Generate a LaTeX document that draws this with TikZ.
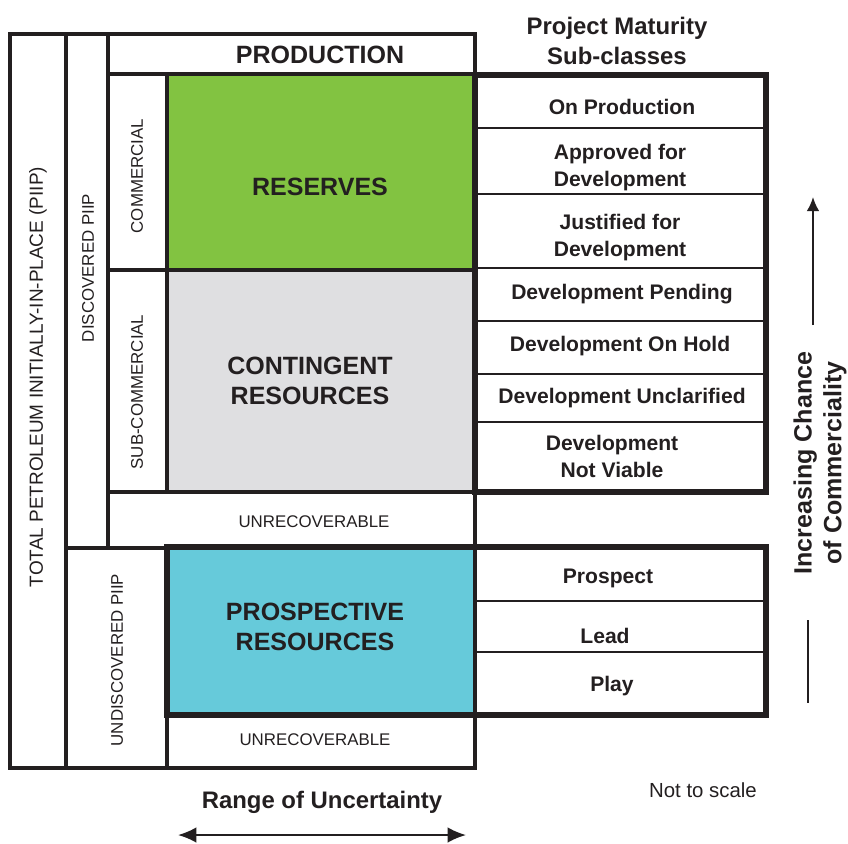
\documentclass[tikz,border=0pt]{standalone}
\usepackage{fontspec}
\setmainfont{Liberation Sans}
\usetikzlibrary{arrows.meta}
\definecolor{resgreen}{RGB}{130,195,65}
\definecolor{congrey}{RGB}{223,223,225}
\definecolor{procyan}{RGB}{102,202,218}
\definecolor{inkdark}{RGB}{35,31,32}
\begin{document}
\begin{tikzpicture}[x=0.025cm, y=-0.025cm,
  frame/.style={draw=inkdark, line width=2.5pt},
  rowline/.style={draw=inkdark, line width=1.4pt},
  heavyframe/.style={draw=inkdark, line width=3.6pt},
  bigtext/.style={font=\fontsize{17.8}{21.3}\selectfont\bfseries, text=inkdark, align=center},
  subtext/.style={font=\fontsize{15}{19.2}\selectfont\bfseries, text=inkdark, align=center},
  headtext/.style={font=\fontsize{17}{21.3}\selectfont\bfseries, text=inkdark, align=center},
  smallcap/.style={font=\fontsize{12}{14}\selectfont, text=inkdark},
  note/.style={font=\fontsize{14.5}{17}\selectfont, text=inkdark}]
        \useasboundingbox (0,0) rectangle (848,843) ;
        % coloured classes
        \fill[resgreen] (167,74) rectangle (475,270) ;
        \fill[congrey] (167,270) rectangle (475,492) ;
        \fill[procyan] (167,547) rectangle (475,715) ;
        % left frame
        \draw[frame] (10,34) rectangle (475,768) ;
        \draw[frame] (66,34) -- (66,768) ;
        \draw[frame] (108,34) -- (108,548) ;
        \draw[frame] (66,548) -- (167,548) ;
        \draw[frame] (108,74) -- (475,74) ;
        \draw[frame] (167,74) -- (167,492) ;
        \draw[frame] (108,270) -- (475,270) ;
        \draw[frame] (108,492) -- (475,492) ;
        \draw[frame] (167,715) -- (167,768) ;
        % sub-classes
        \foreach \y in {128,194,268,321,374,422}
            \draw[rowline] (475,\y) -- (766,\y) ;
        \draw[heavyframe] (475,75) rectangle (766,492) ;
        \foreach \y in {601,652}
            \draw[rowline] (475,\y) -- (766,\y) ;
        \draw[heavyframe] (167,547) rectangle (766,715) ;
        \draw[frame] (475,547) -- (475,715) ;

        \node[bigtext] (production) at (320,55) {PRODUCTION} ;
        \node[bigtext] (reserves) at (320,187) {RESERVES} ;
        \node[bigtext] (contingent) at (310,381) {CONTINGENT\\RESOURCES} ;
        \node[bigtext] (prospective) at (315,627) {PROSPECTIVE\\RESOURCES} ;
        \node[smallcap] (unrecA) at (314,522) {UNRECOVERABLE} ;
        \node[smallcap] (unrecB) at (315,740) {UNRECOVERABLE} ;
        \node[smallcap, font=\fontsize{13.5}{16}\selectfont, rotate=90] (total) at (38,377) {TOTAL PETROLEUM INITIALLY-IN-PLACE (PIIP)} ;
        \node[smallcap, rotate=90] (discovered) at (88,268) {DISCOVERED PIIP} ;
        \node[smallcap, rotate=90] (undiscovered) at (117,660) {UNDISCOVERED PIIP} ;
        \node[smallcap, rotate=90] (commercial) at (137,176) {COMMERCIAL} ;
        \node[smallcap, rotate=90] (subcommercial) at (137,392) {SUB-COMMERCIAL} ;

        \node[subtext] (onprod) at (622,107) {On Production} ;
        \node[subtext] (approved) at (620,168) {Approved for\\Development} ;
        \node[subtext] (justified) at (620,238) {Justified for\\Development} ;
        \node[subtext] (pending) at (622,294) {Development Pending} ;
        \node[subtext] (onhold) at (620,346) {Development On Hold} ;
        \node[subtext] (unclarified) at (622,398) {Development Unclarified} ;
        \node[subtext] (notviable) at (612,456) {Development\\Not Viable} ;
        \node[subtext] (prospect) at (608,578) {Prospect} ;
        \node[subtext] (lead) at (605,636) {Lead} ;
        \node[subtext] (play) at (612,686) {Play} ;

        \node[headtext] (maturity) at (617,41) {Project Maturity\\Sub-classes} ;
        \node[headtext] (range) at (322,802) {Range of Uncertainty} ;
        \node[headtext, font=\fontsize{17.8}{21.3}\selectfont\bfseries, rotate=90] (chance) at (820,463) {Increasing Chance\\of Commerciality} ;
        \node[note] (notscale) at (703,790) {Not to scale} ;

        \coordinate (rangeL) at (178,835) ;
        \coordinate (rangeR) at (466,835) ;
        \draw[<->, >={Latex[length=13pt,width=11pt]}, line width=1.4pt, inkdark] (rangeL) -- (rangeR) ;
        \coordinate (chanceLow) at (813,325) ;
        \coordinate (chanceTip) at (813,197) ;
        \draw[->, >={Latex[length=10pt,width=9pt]}, line width=1.4pt, inkdark] (chanceLow) -- (chanceTip) ;
        \coordinate (tailTop) at (808,620) ;
        \coordinate (tailBot) at (808,703) ;
        \draw[line width=1.4pt, inkdark] (tailTop) -- (tailBot) ;
\end{tikzpicture}
\end{document}
